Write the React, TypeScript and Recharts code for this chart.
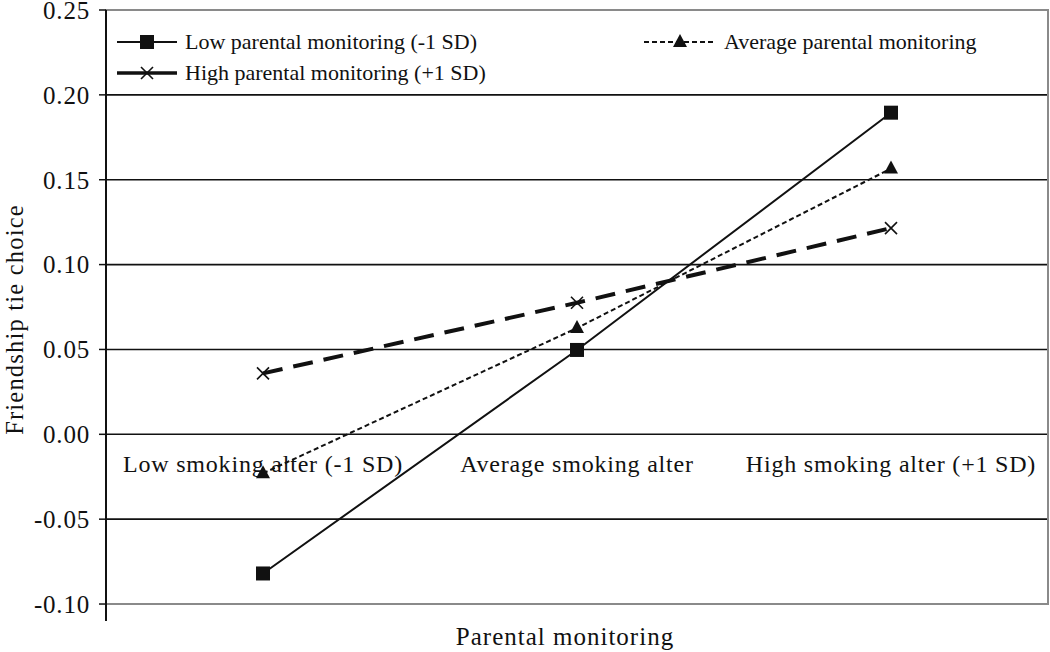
import {
  LineChart,
  Line,
  XAxis,
  YAxis,
  CartesianGrid,
  ReferenceArea,
  ReferenceDot,
  Legend,
} from 'recharts';

const categories = ['Low smoking alter (-1 SD)', 'Average smoking alter', 'High smoking alter (+1 SD)'];
const lowMonitoring = [-0.082, 0.0497, 0.1895];
const avgMonitoring = [-0.023, 0.0626, 0.1566];
const highMonitoring = [0.0359, 0.0775, 0.1215];
const yTicks = [-0.1, -0.05, 0, 0.05, 0.1, 0.15, 0.2, 0.25];
const gridValues = [-0.05, 0, 0.05, 0.1, 0.15, 0.2];
const seriesNames = [
  'Low parental monitoring (-1 SD)',
  'Average parental monitoring',
  'High parental monitoring (+1 SD)',
];

const data = categories.map((name, i) => ({
  name,
  low: lowMonitoring[i],
  avg: avgMonitoring[i],
  high: highMonitoring[i],
}));

const FONT = '"Liberation Serif", "Times New Roman", serif';

type Marker = 'square' | 'triangle' | 'cross';

function drawMarker(kind: Marker, cx: number, cy: number, key?: string | number) {
  if (kind === 'square') {
    return <rect key={key} x={cx - 7} y={cy - 7} width={14} height={14} fill="#111" stroke="none" />;
  }
  if (kind === 'triangle') {
    return (
      <polygon
        key={key}
        points={`${cx},${cy - 8} ${cx + 7},${cy + 5} ${cx - 7},${cy + 5}`}
        fill="#111"
        stroke="none"
      />
    );
  }
  return (
    <g key={key} stroke="#111" strokeWidth={1.6}>
      <line x1={cx - 6} y1={cy - 6} x2={cx + 6} y2={cy + 6} />
      <line x1={cx - 6} y1={cy + 6} x2={cx + 6} y2={cy - 6} />
    </g>
  );
}

const dotFor = (kind: Marker) => (props: any) => {
  const { cx, cy, index } = props;
  if (cx == null || cy == null) return <g key={index} />;
  return drawMarker(kind, cx, cy, index);
};

// legend sits inside the plot, two rows, like the original figure
const legendItems: { marker: Marker; dash?: string; width: number; left: number; top: number; sw: number }[] = [
  { marker: 'square', width: 60, left: 117, top: 27, sw: 2 },
  { marker: 'triangle', dash: '5 3', width: 72, left: 644, top: 27, sw: 2 },
  { marker: 'cross', width: 60, left: 117, top: 58, sw: 3.5 },
];

function renderLegend(props: any) {
  const payload = props.payload || [];
  return (
    <div style={{ position: 'relative', height: 0 }}>
      {payload.map((entry: any) => {
        const it = legendItems[seriesNames.indexOf(entry.value)];
        if (!it) return null;
        return (
          <div
            key={entry.value}
            style={{
              position: 'absolute',
              left: it.left,
              top: it.top,
              height: 30,
              display: 'flex',
              alignItems: 'center',
              whiteSpace: 'nowrap',
              fontFamily: FONT,
              fontSize: 22,
              color: '#111',
            }}
          >
            <svg width={it.width} height={30} style={{ marginRight: 8 }}>
              <line
                x1={0}
                y1={15}
                x2={it.width}
                y2={15}
                stroke="#111"
                strokeWidth={it.sw}
                strokeDasharray={it.dash}
              />
              {drawMarker(it.marker, it.width / 2, 15)}
            </svg>
            {entry.value}
          </div>
        );
      })}
    </div>
  );
}

export default function App() {
  return (
    <div style={{ position: 'absolute', left: 0, top: 0, background: '#fff' }}>
      <LineChart
        width={1050}
        height={652}
        data={data}
        margin={{ top: 10, right: 2, bottom: 0, left: 0 }}
        style={{ fontFamily: FONT }}
      >
        <CartesianGrid horizontalValues={gridValues} vertical={false} stroke="#111" strokeWidth={1.6} />
        <ReferenceArea
          x1={categories[0]}
          x2={categories[2]}
          y1={-0.1}
          y2={0.25}
          fill="none"
          stroke="#8a8a8a"
          strokeWidth={2}
        />
        <XAxis
          dataKey="name"
          scale="band"
          tick={false}
          tickLine={false}
          axisLine={false}
          height={31}
          label={{
            value: 'Parental monitoring',
            position: 'insideBottom',
            offset: 7,
            dx: -12,
            fill: '#111',
            fontSize: 25,
            letterSpacing: 1,
            fontFamily: FONT,
          }}
        />
        <YAxis
          width={106}
          domain={[-0.11, 0.25]}
          ticks={yTicks}
          interval={0}
          tickFormatter={(v: number) => v.toFixed(2)}
          tick={{ fill: '#111', fontSize: 25, letterSpacing: 0.8, fontFamily: FONT }}
          tickSize={7}
          tickMargin={9}
          tickLine={{ stroke: '#111', strokeWidth: 1.5 }}
          axisLine={{ stroke: '#111', strokeWidth: 2 }}
          label={{
            value: 'Friendship tie choice',
            angle: -90,
            position: 'insideLeft',
            offset: 14,
            dy: 4,
            style: { textAnchor: 'middle' },
            fill: '#111',
            fontSize: 24.5,
            letterSpacing: 1.2,
            fontFamily: FONT,
          }}
        />
        {categories.map((c) => (
          <ReferenceDot
            key={c}
            x={c}
            y={0}
            r={0}
            fill="none"
            stroke="none"
            label={{
              value: c,
              position: 'bottom',
              offset: 21,
              fill: '#111',
              fontSize: 24,
              letterSpacing: 0.8,
              fontFamily: FONT,
            }}
          />
        ))}
        <Legend content={renderLegend} wrapperStyle={{ left: 0, top: 0, width: 1050, height: 0 }} />
        <Line
          name={seriesNames[0]}
          dataKey="low"
          stroke="#111"
          strokeWidth={2}
          dot={dotFor('square')}
          isAnimationActive={false}
        />
        <Line
          name={seriesNames[1]}
          dataKey="avg"
          stroke="#111"
          strokeWidth={2}
          strokeDasharray="5 3"
          dot={dotFor('triangle')}
          isAnimationActive={false}
        />
        <Line
          name={seriesNames[2]}
          dataKey="high"
          stroke="#111"
          strokeWidth={4}
          strokeDasharray="20 11"
          dot={dotFor('cross')}
          isAnimationActive={false}
        />
      </LineChart>
    </div>
  );
}
